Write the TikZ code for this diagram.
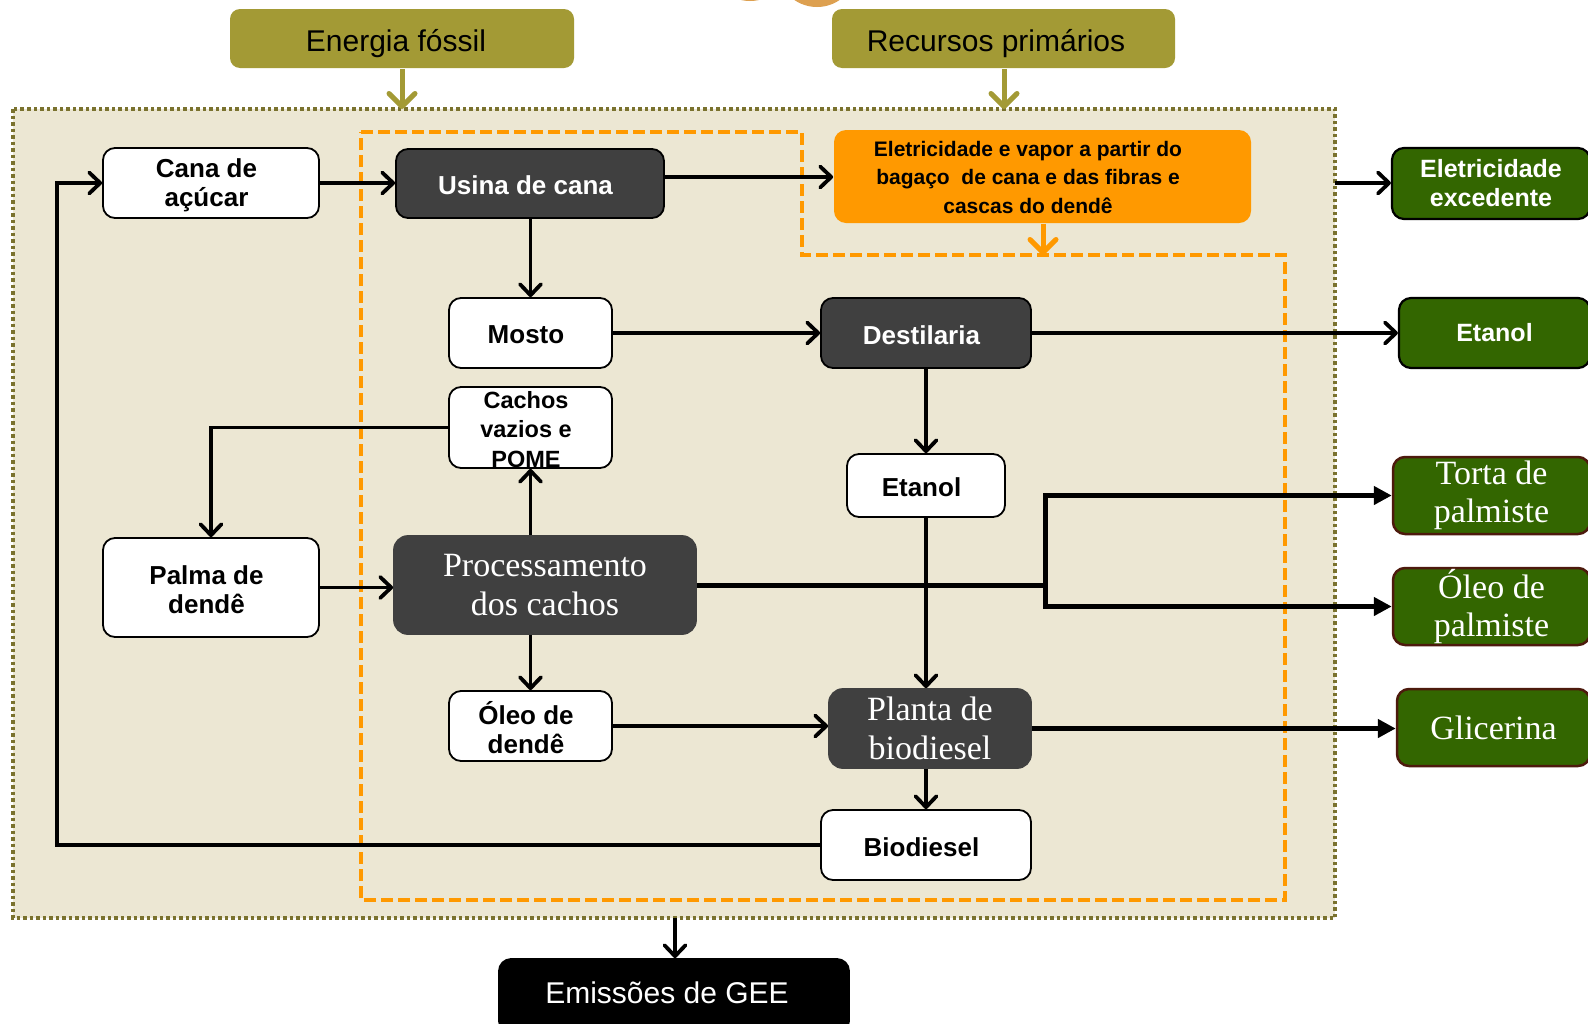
\documentclass[tikz,border=0pt]{standalone}
\usepackage{fontspec}
\setmainfont{Liberation Sans}
\newfontfamily\serifA{Liberation Serif}
\usetikzlibrary{arrows.meta}
\definecolor{beige}{RGB}{236,231,211}
\definecolor{dotc}{RGB}{122,114,46}
\definecolor{olv}{RGB}{163,154,53}
\definecolor{dk}{RGB}{64,64,64}
\definecolor{org}{RGB}{255,153,0}
\definecolor{grn}{RGB}{51,102,0}
\definecolor{brn}{RGB}{77,26,13}
\definecolor{circ}{RGB}{221,160,80}
\begin{document}
\begin{tikzpicture}[x=1pt,y=-1pt,
  box/.style={rounded corners=12pt, inner sep=0pt, align=center, line width=1.8pt},
  btext/.style={inner sep=0pt, align=center, font=\bfseries\fontsize{26}{29}\selectfont, xshift=-4.5pt, yshift=-2pt},
  wbox/.style={box, draw=black, fill=white, label={[btext]center:#1}},
  dbox/.style={box, draw=black, fill=dk, label={[btext, text=white]center:#1}},
  sbox/.style={box, draw=dk, fill=dk, text=white, font=\serifA\fontsize{34}{38.5}\selectfont, rounded corners=14pt},
  gbox/.style={box, draw=black, fill=grn, text=white, font=\bfseries\fontsize{25}{29}\selectfont, line width=2.2pt},
  gsbox/.style={box, draw=brn, fill=grn, text=white, font=\serifA\fontsize{34}{38.5}\selectfont, line width=2.5pt},
  obox/.style={box, draw=none, fill=olv, rounded corners=10pt},
  otext/.style={inner sep=0pt, font=\fontsize{30}{34}\selectfont},
  conn/.style={draw=black, line width=3.4pt, -{Straight Barb[length=11pt,width=21pt,round,line width=3.8pt]}},
  fconn/.style={draw=black, line width=5pt, -{Triangle[length=18pt,width=18pt]}},
  oconn/.style={draw=olv, line width=5pt, -{Straight Barb[length=13pt,width=26pt,round,line width=5pt]}},
]
\useasboundingbox (0,0) rectangle (1588,1023);
\fill[white] (0,0) rectangle (1588,1023);
\begin{scope}
  \clip (0,0) rectangle (1588,1023);
  \fill[circ] (750,-39) circle (40pt);
  \fill[circ] (817,-33) circle (40pt);
\end{scope}

% outer system boundary
\draw[fill=beige, draw=dotc, line width=3.5pt, dash pattern=on 3.5pt off 3pt] (13,109) rectangle (1335,918);
% orange dashed region
\draw[draw=org, line width=3.5pt, dash pattern=on 12pt off 5pt]
  (361,132) -- (802,132) -- (802,255) -- (1285,255) -- (1285,900) -- (361,900) -- cycle;

% top boxes
\node[obox, minimum width=344pt, minimum height=59pt] (energia) at (402,38.5) {};
\node[otext] (energiaT) at (396,44) {Energia fóssil};
\node[obox, minimum width=343pt, minimum height=59pt] (recursos) at (1003.5,38.5) {};
\node[otext] (recursosT) at (996,44) {Recursos primários};

% main nodes
\node[wbox={Cana de\\açúcar}, minimum width=216pt, minimum height=70pt] (cana) at (211,183) {};
\node[dbox={Usina de cana}, minimum width=268pt, minimum height=69pt] (usina) at (530,183.5) {};
\node[box, fill=org, draw=none, minimum width=417pt, minimum height=93pt] (eletr) at (1042.5,176.5) {};
\node[inner sep=0pt, align=center, font=\bfseries\fontsize{21}{28.5}\selectfont] (eletrT) at (1028,177)
  {Eletricidade e vapor a partir do\\bagaço\ \ de cana e das fibras e\\cascas do dendê};
\node[gbox, minimum width=198pt, minimum height=71pt] (elexc) at (1491,183.5) {Eletricidade\\excedente};
\node[gbox, minimum width=191pt, minimum height=70pt] (etanolG) at (1494.5,333) {Etanol};

\node[wbox={Mosto}, minimum width=163pt, minimum height=70pt] (mosto) at (530.5,333) {};
\node[dbox={Destilaria}, minimum width=210pt, minimum height=70pt] (dest) at (926,333) {};
\node[wbox={Etanol}, minimum width=158pt, minimum height=63pt] (etanolW) at (926,485.5) {};
\node[box, draw=black, fill=white, minimum width=163pt, minimum height=81pt] (cachos) at (530.5,427.5) {};
\node[btext, font=\bfseries\fontsize{23.5}{29.5}\selectfont] (cachosT) at (530.5,427.5) {Cachos\\vazios e\\POME};
\node[sbox, minimum width=302pt, minimum height=98pt] (proc) at (545,585) {Processamento\\dos cachos};
\node[wbox={Palma de\\dendê}, minimum width=216pt, minimum height=99pt] (palma) at (211,587.5) {};
\node[wbox={Óleo de\\dendê}, minimum width=163pt, minimum height=70pt] (oleoD) at (530.5,726) {};
\node[sbox, minimum width=202pt, minimum height=79pt] (planta) at (930,728.5) {Planta de\\biodiesel};
\node[wbox={Biodiesel}, minimum width=210pt, minimum height=70pt] (bio) at (926,845) {};

\node[gsbox, minimum width=197pt, minimum height=77pt] (torta) at (1491.5,495.5) {Torta de\\palmiste};
\node[gsbox, minimum width=197pt, minimum height=77pt] (oleoP) at (1491.5,606.5) {Óleo de\\palmiste};
\node[gsbox, minimum width=193pt, minimum height=77pt] (glic) at (1493.5,727.5) {Glicerina};

\node[box, fill=black, draw=black, minimum width=350pt, minimum height=74pt] (emis) at (674,996) {};
\node[otext, text=white] (emisT) at (667,993) {Emissões de GEE};

% helper coordinates
\coordinate (eIn) at (402,109);
\coordinate (rIn) at (1004,109);
\coordinate (oIn) at (1043,255);
\coordinate (outR) at (1335,183);
\coordinate (outB) at (675,918);
\coordinate (loopx) at (57,0);
\coordinate (split) at (1045,585);
\coordinate (y177) at (0,177);

% connectors
\draw[oconn] (energia.south -| eIn) -- (eIn);
\draw[oconn] (recursos.south -| rIn) -- (rIn);
\draw[conn] (cana.east) -- (usina.west |- cana.east);
\draw[conn] (usina.east |- y177) -- (eletr.west |- y177);
\draw[draw=org, line width=5pt, -{Straight Barb[length=13pt,width=26pt,round,line width=5pt]}] (eletr.south -| oIn) -- (oIn);
\draw[conn] (outR) -- (elexc.west |- outR);
\draw[conn] (usina.south -| mosto.north) -- (mosto.north);
\draw[conn] (mosto.east) -- (dest.west);
\draw[conn] (dest.east) -- (etanolG.west);
\draw[conn] (dest.south) -- (etanolW.north);
\draw[conn] (etanolW.south) -- (etanolW.south |- planta.north);
\draw[conn] (cachos.west) -| (palma.north);
\draw[conn] (palma.east) -- (proc.west |- palma.east);
\draw[conn] (cachos.south |- proc.north) -- (cachos.south);
\draw[conn] (proc.south -| oleoD.north) -- (oleoD.north);
\draw[line width=5pt] (proc.east) -- (split);
\draw[fconn] (split) |- (torta.west);
\draw[fconn] (split) |- (oleoP.west);
\draw[conn] (oleoD.east) -- (planta.west |- oleoD.east);
\draw[fconn] (planta.east) -- (glic.west |- planta.east);
\draw[conn] (planta.south -| bio.north) -- (bio.north);
\draw[conn, line width=4pt] (bio.west) -| (loopx |- cana.west) -- (cana.west);
\draw[conn, line width=4pt] (outB) -- (emis.north -| outB);
\end{tikzpicture}
\end{document}
